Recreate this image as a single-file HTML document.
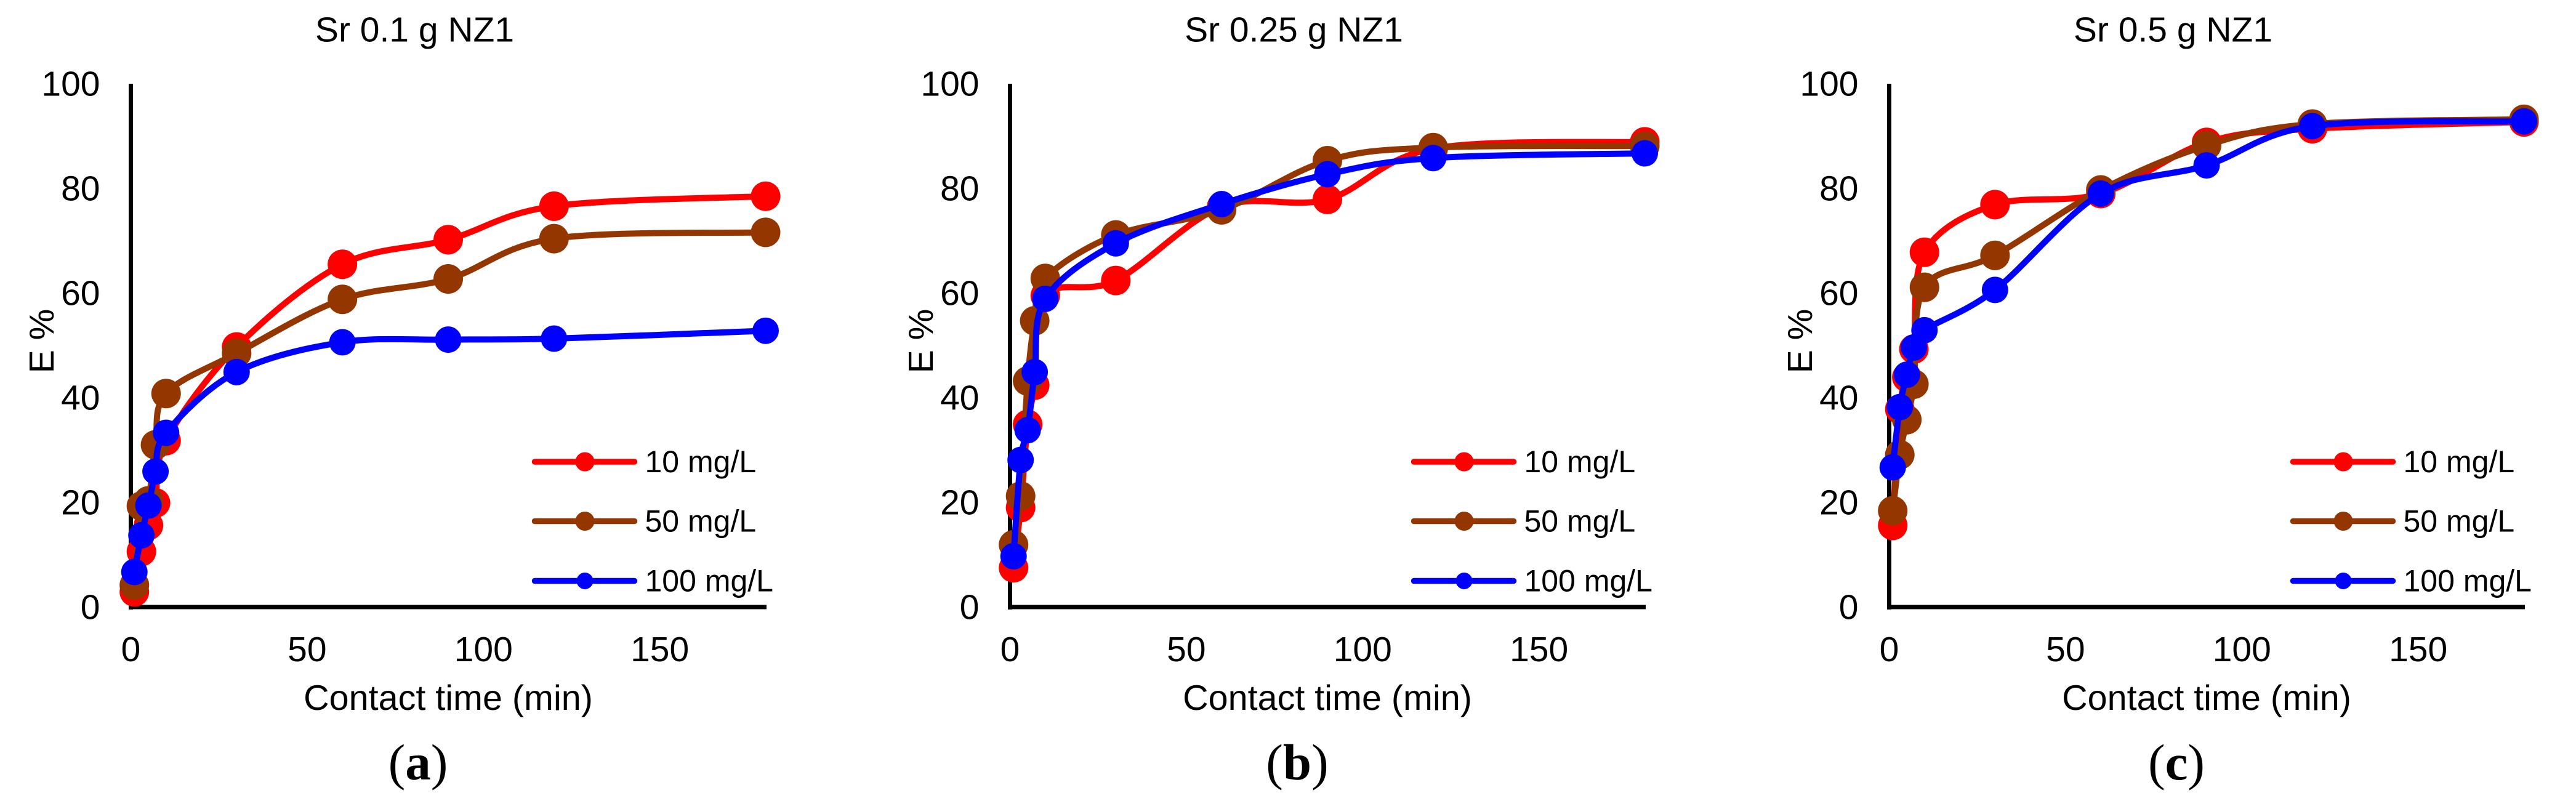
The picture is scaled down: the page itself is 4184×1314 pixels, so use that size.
<!DOCTYPE html>
<html lang="en">
<head>
<meta charset="utf-8">
<title>Sr removal versus contact time</title>
<style>
html,body{margin:0;padding:0;background:#fff;}
svg{display:block;}
text{font-family:"Liberation Sans",sans-serif;fill:#000;}
.caption{font-family:"Liberation Serif",serif;}
</style>
</head>
<body>
<svg id="figure" xmlns="http://www.w3.org/2000/svg" width="4184" height="1314" viewBox="0 0 4184 1314"></svg>
<script>
const contactTimes = [1, 3, 5, 7, 10, 30, 60, 90, 120, 180];
const xTickValues = [0, 50, 100, 150];
const yTickValues = [0, 20, 40, 60, 80, 100];
const seriesNames = ['10 mg/L', '50 mg/L', '100 mg/L'];
const panelTitles = ['Sr 0.1 g NZ1', 'Sr 0.25 g NZ1', 'Sr 0.5 g NZ1'];
const panelLetters = ['a', 'b', 'c'];

const panelA10 = [2.9, 10.6, 15.6, 19.9, 31.8, 49.7, 65.5, 70.2, 76.6, 78.5];
const panelA50 = [4.2, 19.3, 20.3, 31.0, 40.8, 48.5, 58.8, 62.7, 70.4, 71.6];
const panelA100 = [6.7, 13.7, 19.4, 25.9, 33.3, 44.9, 50.6, 51.1, 51.3, 52.8];

const panelB10 = [7.5, 19.0, 34.9, 42.4, 59.5, 62.4, 76.5, 77.9, 87.6, 88.9];
const panelB50 = [11.9, 21.2, 43.2, 54.7, 62.8, 71.1, 75.9, 85.3, 87.8, 88.1];
const panelB100 = [9.7, 28.1, 33.8, 44.9, 58.9, 69.5, 77.0, 82.7, 85.8, 86.7];

const panelC10 = [15.6, 37.8, 43.9, 49.3, 67.8, 76.9, 79.0, 88.8, 91.4, 92.7];
const panelC50 = [18.4, 29.1, 35.8, 42.6, 61.1, 67.2, 79.7, 88.2, 92.3, 93.2];
const panelC100 = [26.7, 38.2, 44.4, 49.6, 52.9, 60.6, 79.0, 84.4, 91.9, 92.8];

const panelSeries = [
  [panelA10, panelA50, panelA100],
  [panelB10, panelB50, panelB100],
  [panelC10, panelC50, panelC100]
];

const NS = 'http://www.w3.org/2000/svg';
const svg = document.getElementById('figure');
const seriesColors = ['#ff0000', '#943600', '#0000ff'];
const markerRadius = [24, 24, 21.5];
const legendMarkerRadius = [15.5, 15.5, 13.5];
const legendRowY = [750, 846.5, 943.5];

const Y_ZERO = 986;
const Y_FULL = 136;
const X_SPAN = 1031;
const X_MAX = 180;
const Y_MAX = 100;

function make(tag, attrs, parent, text) {
  const el = document.createElementNS(NS, tag);
  for (const key in attrs) el.setAttribute(key, attrs[key]);
  if (text !== undefined) el.textContent = text;
  parent.appendChild(el);
  return el;
}

function xScale(originX, value) { return originX + value / X_MAX * X_SPAN; }
function yScale(value) { return Y_ZERO - value / Y_MAX * (Y_ZERO - Y_FULL); }

function smoothPath(points) {
  let d = 'M' + points[0][0].toFixed(1) + ' ' + points[0][1].toFixed(1);
  for (let i = 0; i < points.length - 1; i++) {
    const p0 = points[Math.max(i - 1, 0)];
    const p1 = points[i];
    const p2 = points[i + 1];
    const p3 = points[Math.min(i + 2, points.length - 1)];
    const c1x = p1[0] + (p2[0] - p0[0]) / 6;
    const c1y = p1[1] + (p2[1] - p0[1]) / 6;
    const c2x = p2[0] - (p3[0] - p1[0]) / 6;
    const c2y = p2[1] - (p3[1] - p1[1]) / 6;
    d += 'C' + c1x.toFixed(1) + ' ' + c1y.toFixed(1) + ' ' + c2x.toFixed(1) + ' ' + c2y.toFixed(1) + ' ' + p2[0].toFixed(1) + ' ' + p2[1].toFixed(1);
  }
  return d;
}

panelSeries.forEach(function (seriesList, p) {
  const originX = 212.5 + p * 1428;
  const panel = make('g', {}, svg);
  
  

  const title = make('text', { x: originX + 461, y: 67.5, 'text-anchor': 'middle', 'font-size': 57 }, panel, panelTitles[p]);
  
  

  const yAxis = make('rect', { x: originX - 3.5, y: Y_FULL, width: 7, height: Y_ZERO - Y_FULL + 4, fill: '#000' }, panel);
  
  

  const xAxis = make('rect', { x: originX - 3.5, y: Y_ZERO - 3.5, width: X_SPAN + 5, height: 7, fill: '#000' }, panel);
  
  

  yTickValues.forEach(function (value) {
    const label = make('text', { x: originX - 50, y: yScale(value) + 19.5, 'text-anchor': 'end', 'font-size': 57 }, panel, String(value));
    
    
  });

  xTickValues.forEach(function (value) {
    const label = make('text', { x: xScale(originX, value), y: 1074, 'text-anchor': 'middle', 'font-size': 57 }, panel, String(value));
    
    
  });

  const yTitleX = originX - 125.5;
  const yTitle = make('text', { x: yTitleX, y: 554, 'text-anchor': 'middle', 'font-size': 57, transform: 'rotate(-90 ' + yTitleX + ' 554)' }, panel, 'E %');
  
  

  const xTitle = make('text', { x: originX + 515.5, y: 1153, 'text-anchor': 'middle', 'font-size': 57.5 }, panel, 'Contact time (min)');
  
  

  seriesList.forEach(function (values, s) {
    const group = make('g', {}, panel);
    
    
    const points = values.map(function (v, i) {
      return [xScale(originX, contactTimes[i]), yScale(v)];
    });
    const line = make('path', { d: smoothPath(points), fill: 'none', stroke: seriesColors[s], 'stroke-width': 10, 'stroke-linecap': 'round', 'stroke-linejoin': 'round' }, group);
    
    
    points.forEach(function (pt) {
      const dot = make('circle', { cx: pt[0], cy: pt[1], r: markerRadius[s], fill: seriesColors[s] }, group);
      
      
    });
  });

  const legend = make('g', {}, panel);
  
  
  seriesNames.forEach(function (name, s) {
    const rowY = legendRowY[s];
    const entry = make('g', {}, legend);
    
    
    const swatch = make('line', { x1: originX + 656, x2: originX + 818, y1: rowY, y2: rowY, stroke: seriesColors[s], 'stroke-width': 9.5, 'stroke-linecap': 'round' }, entry);
    
    
    const marker = make('circle', { cx: originX + 737.5, cy: rowY, r: legendMarkerRadius[s], fill: seriesColors[s] }, entry);
    
    
    const label = make('text', { x: originX + 835, y: rowY + 17, 'font-size': 50 }, entry, name);
    
    
  });

  const caption = make('text', { class: 'caption', x: originX + 466.5, y: 1266, 'text-anchor': 'middle', 'font-size': 83 }, panel);
  
  
  make('tspan', {}, caption, '(');
  make('tspan', { 'font-weight': 'bold' }, caption, panelLetters[p]);
  make('tspan', {}, caption, ')');
});
</script>
</body>
</html>
